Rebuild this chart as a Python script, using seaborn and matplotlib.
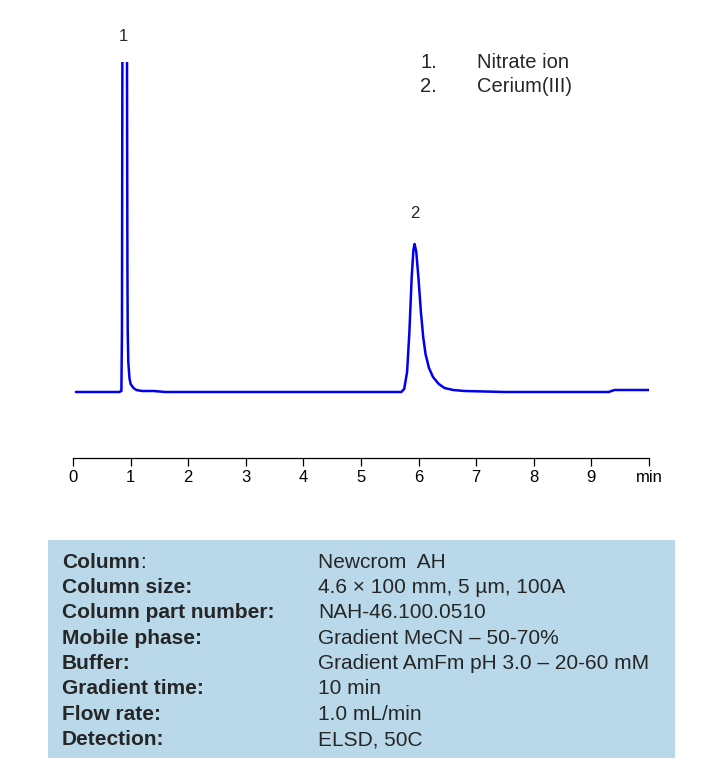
import numpy as np
import pandas as pd
import seaborn as sns
from matplotlib import pyplot as plt
from matplotlib.patches import Rectangle

# trace points (time in min, signal in arbitrary units)
time = [0.05, 0.80, 0.84, 0.85, 0.855, 0.86, 0.935, 0.94, 0.945, 0.95, 0.96, 0.98,
        1.00, 1.05, 1.10, 1.20, 1.40, 1.60, 2.00, 3.00, 4.00, 5.00, 5.70, 5.75,
        5.80, 5.84, 5.88, 5.91, 5.93, 5.96, 6.00, 6.04, 6.08, 6.12, 6.18, 6.25,
        6.35, 6.45, 6.60, 6.80, 7.50, 9.30, 9.40, 10.00]
signal = [0, 0, 1, 60, 250, 420, 420, 250, 120, 60, 30, 14,
          8, 4, 2, 1, 1, 0, 0, 0, 0, 0, 0, 3,
          20, 60, 115, 142, 148, 140, 112, 80, 55, 38, 24, 15,
          8, 4, 2, 1, 0, 0, 2, 2]

peak_labels = ['1', '2']
peak_label_pos = [(0.88, 355), (5.93, 178)]
legend_num = ['1.', '2.']
legend_names = ['Nitrate ion', 'Cerium(III)']

row_keys = ['Column', 'Column size:', 'Column part number:', 'Mobile phase:',
            'Buffer:', 'Gradient time:', 'Flow rate:', 'Detection:']
row_vals = ['Newcrom  AH', '4.6 × 100 mm, 5 µm, 100A', 'NAH-46.100.0510',
            'Gradient MeCN – 50-70%', 'Gradient AmFm pH 3.0 – 20-60 mM',
            '10 min', '1.0 mL/min', 'ELSD, 50C']

sns.set_style('white')
plt.rcParams['font.family'] = ['Liberation Sans', 'DejaVu Sans']

W, H = 708, 782
fig = plt.figure(figsize=(W / 100, H / 100), dpi=100)
ax = fig.add_axes([73 / W, 1 - 458 / H, (649 - 73) / W, (458 - 62) / H])

trace = pd.DataFrame({'time': time, 'signal': signal})
sns.lineplot(data=trace, x='time', y='signal', ax=ax, color='#0000ee',
             linewidth=1.8, estimator=None, sort=False)
ax.set_xlim(0, 10)
ax.set_ylim(-66, 330)
for s in ['left', 'top', 'right']:
    ax.spines[s].set_visible(False)
ax.spines['bottom'].set_color('black')
ax.spines['bottom'].set_linewidth(0.9)
ax.set_yticks([])
ax.set_xticks(range(11))
ax.set_xticklabels([str(i) for i in range(10)] + ['min'])
ax.tick_params(axis='x', direction='out', length=6, width=0.9, labelsize=12,
               pad=3, bottom=True, colors='black')
ax.set_xlabel('')
ax.set_ylabel('')

for lab, (x, y) in zip(peak_labels, peak_label_pos):
    ax.text(x, y, lab, ha='center', va='center', fontsize=12, clip_on=False)

for i, (n, name) in enumerate(zip(legend_num, legend_names)):
    fig.text(420 / W, 1 - (62 + 25 * i) / H, n, fontsize=14.5, va='center')
    fig.text(477 / W, 1 - (62 + 25 * i) / H, name, fontsize=14.5, va='center')

# parameters box
fig.patches.append(Rectangle((48 / W, 1 - 758 / H), (675 - 48) / W, (758 - 540) / H,
                             transform=fig.transFigure, facecolor='#b9d9eb',
                             edgecolor='none'))
fs = 15
for i, (k, v) in enumerate(zip(row_keys, row_vals)):
    y = 1 - (562 + 25.4 * i) / H
    t = fig.text(62 / W, y, k, fontsize=fs, fontweight='bold', va='center')
    if k == 'Column':
        # plain (non-bold) colon right after the bold word, as in the reference
        fig.canvas.draw()
        x1 = t.get_window_extent().x1
        fig.text(x1 / W, y, ':', fontsize=fs, va='center')
    fig.text(318 / W, y, v, fontsize=fs, va='center')

fig.savefig('out.png', dpi=100)
